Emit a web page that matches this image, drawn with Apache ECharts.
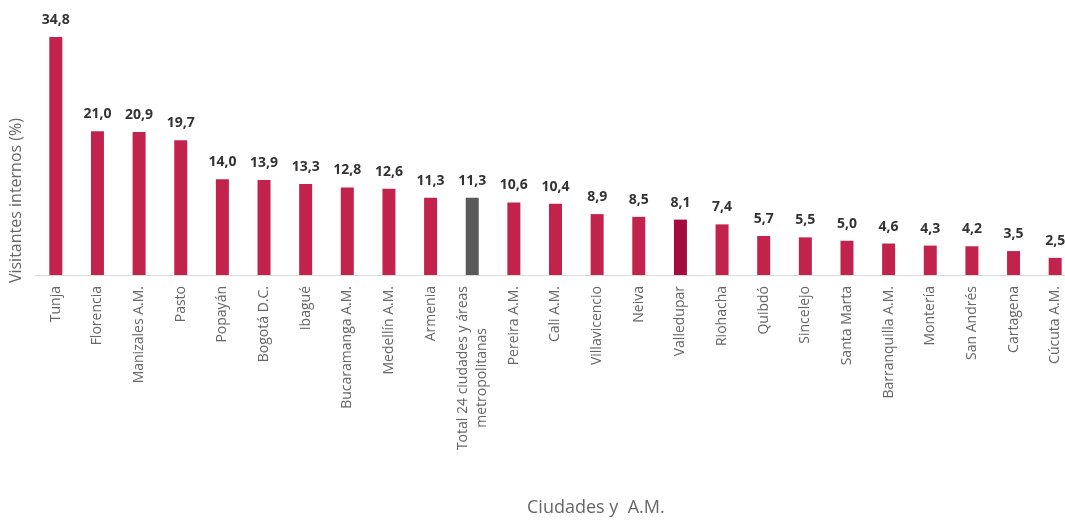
<!DOCTYPE html>
<html>
<head>
<meta charset="utf-8">
<script src="https://cdn.jsdelivr.net/npm/echarts@6/dist/echarts.min.js"></script>
<style>
html,body{margin:0;padding:0;background:#fff;}
#chart{width:1065px;height:524px;}
</style>
</head>
<body>
<div id="chart"></div>
<script>
var categories = ["Tunja","Florencia","Manizales A.M.","Pasto","Popayán","Bogotá D.C.","Ibagué","Bucaramanga A.M.","Medellín A.M.","Armenia","Total 24 ciudades y áreas\nmetropolitanas","Pereira A.M.","Cali A.M.","Villavicencio","Neiva","Valledupar","Riohacha","Quibdó","Sincelejo","Santa Marta","Barranquilla A.M.","Montería","San Andrés","Cartagena","Cúcuta A.M."];
var values = [34.8,21.0,20.9,19.7,14.0,13.9,13.3,12.8,12.6,11.3,11.3,10.6,10.4,8.9,8.5,8.1,7.4,5.7,5.5,5.0,4.6,4.3,4.2,3.5,2.5];
var totalIndex = 10;
var highlightIndex = 15;

var chart = echarts.init(document.getElementById('chart'));
var data = values.map(function (v, i) {
  var c = '#C1234C';
  if (i === totalIndex) c = '#595959';
  if (i === highlightIndex) c = '#A50B3E';
  return { value: v, itemStyle: { color: c } };
});
chart.setOption({
  animation: false,
  grid: { left: 35, width: 1041, top: 35.6, height: 239.4, containLabel: false, outerBoundsMode: 'none' },
  xAxis: {
    type: 'category',
    data: categories,
    axisLine: { lineStyle: { color: '#D9D9D9', width: 1 } },
    axisTick: { show: false },
    axisLabel: {
      rotate: 90,
      interval: 0,
      margin: 11,
      color: '#666666',
      fontFamily: 'Open Sans',
      fontSize: 14,
      lineHeight: 19,
      formatter: function (v) {
        if (v.indexOf('\n') >= 0) {
          var parts = v.split('\n');
          return '{a|' + parts[0] + '}\n{b|' + parts[1] + '}';
        }
        return v;
      },
      rich: {
        a: { fontFamily: 'Open Sans', fontSize: 14, color: '#666666', lineHeight: 19 },
        b: { fontFamily: 'Open Sans', fontSize: 14, color: '#666666', lineHeight: 19, padding: [0, 42, 0, 0] }
      }
    }
  },
  yAxis: {
    type: 'value',
    min: 0,
    max: 35,
    show: false
  },
  graphic: [{
    type: 'text',
    left: 8,
    top: 118,
    rotation: Math.PI / 2,
    style: {
      text: 'Visitantes internos (%)',
      fill: '#666666',
      font: '16px "Open Sans"'
    }
  }, {
    type: 'text',
    left: 527,
    top: 499,
    style: {
      text: 'Ciudades y  A.M.',
      fill: '#666666',
      font: '18px "Open Sans"'
    }
  }],
  series: [{
    type: 'bar',
    data: data,
    barWidth: 13,
    label: {
      show: true,
      position: 'top',
      distance: 10,
      color: '#333333',
      fontFamily: 'Open Sans',
      fontWeight: 'bold',
      fontSize: 14,
      formatter: function (p) { return p.value.toFixed(1).replace('.', ','); }
    }
  }]
});
</script>
</body>
</html>
